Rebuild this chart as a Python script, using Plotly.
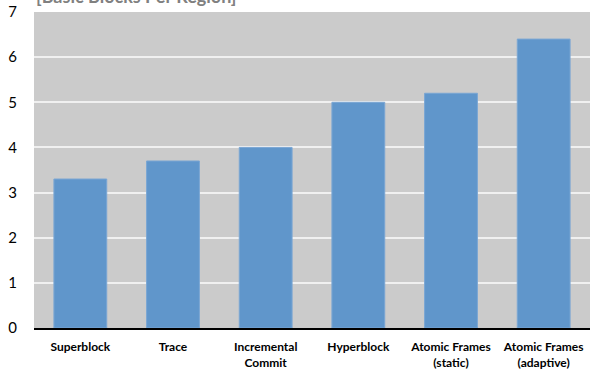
import plotly.graph_objects as go

# Average basic blocks per region for each region-formation scheme
categories = ["Superblock", "Trace", "Incremental<br>Commit", "Hyperblock",
              "Atomic Frames<br>(static)", "Atomic Frames<br>(adaptive)"]
values = [3.3, 3.7, 4.0, 5.0, 5.2, 6.4]
y_ticks = [0, 1, 2, 3, 4, 5, 6, 7]

fig = go.Figure(
    go.Bar(
        x=categories,
        y=values,
        marker=dict(color="#6096cb", line=dict(color="#7aa6d4", width=1)),
        width=0.57,
    )
)

fig.update_layout(
    width=592,
    height=372,
    margin=dict(l=34, r=2, t=10, b=44),
    paper_bgcolor="white",
    plot_bgcolor="#cbcbcb",
    showlegend=False,
    font=dict(family="Lato, Open Sans, sans-serif", color="#000000"),
    annotations=[
        dict(
            text="[Basic Blocks Per Region]",
            xref="paper", yref="paper",
            x=0.0, y=1.05,
            xanchor="left", yanchor="middle",
            showarrow=False,
            font=dict(size=18, color="#808080", weight="bold"),
        )
    ],
)

fig.update_xaxes(
    showgrid=False,
    showline=True,
    linecolor="#000000",
    linewidth=2,
    ticks="",
    tickfont=dict(size=12, weight="bold"),
    ticklabelstandoff=7,
)

fig.update_yaxes(
    range=[0, 7],
    tickvals=y_ticks,
    showgrid=True,
    gridcolor="#f0f0f0",
    gridwidth=2,
    zeroline=False,
    showline=False,
    ticks="",
    tickfont=dict(size=15),
    ticklabelstandoff=16,
)

fig.write_html("out.html")
